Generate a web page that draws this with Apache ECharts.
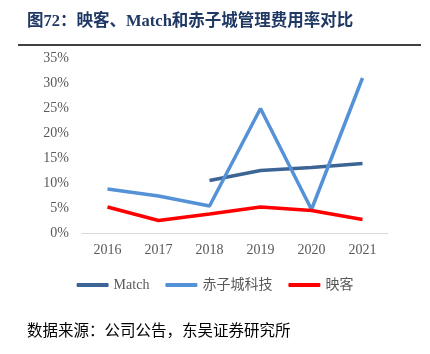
<!DOCTYPE html>
<html>
<head>
<meta charset="utf-8">
<script src="https://cdn.jsdelivr.net/npm/echarts@6/dist/echarts.min.js"></script>
<style>
html, body { margin: 0; padding: 0; background: #fff; }
#main { width: 430px; height: 354px; }
</style>
</head>
<body>
<div id="main"></div>
<script>
var years = ['2016', '2017', '2018', '2019', '2020', '2021'];
var matchVals = [null, null, 10.5, 12.5, 13.1, 13.9];
var chizichengVals = [8.8, 7.4, 5.4, 24.9, 4.7, 31.0];
var yingkeVals = [5.2, 2.5, 3.8, 5.2, 4.5, 2.7];

var serif = '"Liberation Serif", "Noto Sans CJK SC", serif';

var myChart = echarts.init(document.getElementById('main'));
myChart.setOption({
    backgroundColor: '#fff',
    animation: false,
    graphic: [
        {
            type: 'text',
            left: 27,
            top: 13,
            style: {
                text: '图72：映客、Match和赤子城管理费用率对比',
                font: 'bold 16.5px "Liberation Serif", "Noto Sans CJK SC", serif',
                fill: '#1f3864'
            }
        },
        {
            type: 'line',
            shape: { x1: 18, y1: 45, x2: 421, y2: 45 },
            style: { stroke: '#000', lineWidth: 1.5 }
        },
        {
            type: 'text',
            left: 27,
            top: 322,
            style: {
                text: '数据来源：公司公告，东吴证券研究所',
                font: '15.5px "Noto Sans CJK SC", sans-serif',
                fill: '#000'
            }
        }
    ],
    legend: {
        top: 273,
        left: 'center',
        itemWidth: 32,
        itemHeight: 4,
        itemGap: 16,
        icon: 'roundRect',
        textStyle: { color: '#595959', fontSize: 14, fontFamily: serif },
        data: ['Match', '赤子城科技', '映客']
    },
    grid: { left: 82, right: 42, top: 58, height: 175 },
    xAxis: {
        type: 'category',
        data: years,
        boundaryGap: true,
        axisLine: { lineStyle: { color: '#d9d9d9', width: 1 } },
        axisTick: { show: false },
        axisLabel: { color: '#595959', fontSize: 14, fontFamily: serif, margin: 10 }
    },
    yAxis: {
        type: 'value',
        min: 0,
        max: 35,
        interval: 5,
        splitLine: { show: false },
        axisLine: { show: false },
        axisTick: { show: false },
        axisLabel: {
            color: '#595959',
            fontSize: 14,
            fontFamily: serif,
            margin: 13,
            formatter: function (v) { return v + '%'; }
        }
    },
    series: [
        {
            name: 'Match',
            type: 'line',
            data: matchVals,
            symbol: 'none',
            lineStyle: { color: '#3c6595', width: 3.5 },
            itemStyle: { color: '#3c6595' }
        },
        {
            name: '赤子城科技',
            type: 'line',
            data: chizichengVals,
            symbol: 'none',
            lineStyle: { color: '#5591d6', width: 3.5 },
            itemStyle: { color: '#5591d6' }
        },
        {
            name: '映客',
            type: 'line',
            data: yingkeVals,
            symbol: 'none',
            lineStyle: { color: '#ff0000', width: 3.5 },
            itemStyle: { color: '#ff0000' }
        }
    ]
});
</script>
</body>
</html>
